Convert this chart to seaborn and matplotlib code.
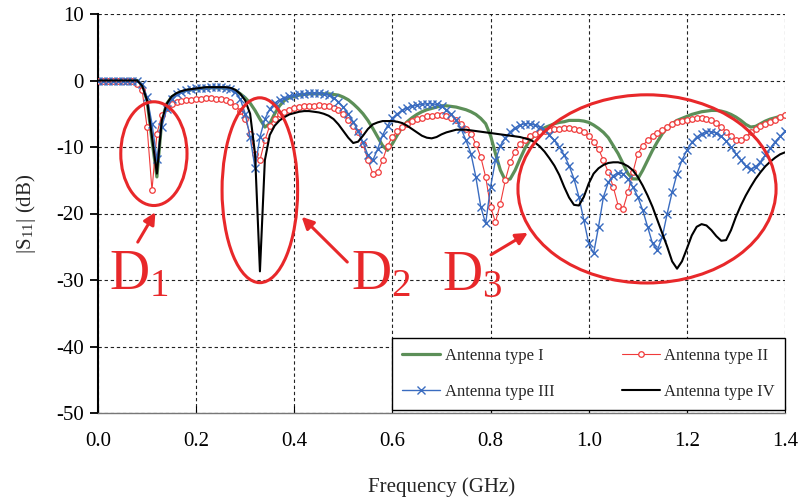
import matplotlib
matplotlib.use("Agg")
import matplotlib.pyplot as plt
import seaborn as sns
import numpy as np
import pandas as pd
from matplotlib.patches import Ellipse
from matplotlib.ticker import FormatStrFormatter

# ---------------- data ----------------
freq = np.round(np.arange(0, 141) * 0.01, 2)  # GHz, 0.00 ... 1.40

type_i = [
    0, 0, 0, 0, 0, 0, 0, 0, 0, -0.8,
    -3, -9, -14.5, -6, -3.5, -2.5, -2, -1.7, -1.5, -1.4,
    -1.3, -1.2, -1.2, -1.1, -1.1, -1.1, -1.2, -1.3, -1.5, -2,
    -2.6, -3.4, -4.5, -5.8, -7, -6.5, -5, -3.8, -3, -2.6,
    -2.4, -2.2, -2.1, -2.0, -2.0, -2.0, -2.0, -2.0, -2.1, -2.2,
    -2.5, -2.9, -3.5, -4.2, -5, -6, -7.2, -8.5, -9.8, -10.5,
    -9.5, -8.2, -7, -6.2, -5.6, -5.1, -4.7, -4.4, -4.2, -4.0,
    -3.8, -3.8, -3.9, -4.0, -4.2, -4.4, -4.7, -5.1, -5.7, -6.5,
    -8.3, -11, -13.5, -15, -14.8, -13.5, -11.8, -10.2, -9, -8.2,
    -7.6, -7.1, -6.8, -6.5, -6.3, -6.2, -6.0, -6.0, -6.0, -6.1,
    -6.3, -6.7, -7.2, -7.8, -8.6, -9.8, -11, -12.5, -14, -14.8,
    -14.8, -13.5, -12, -10.5, -9.2, -8, -7.1, -6.5, -6.0, -5.7,
    -5.4, -5.1, -4.9, -4.7, -4.6, -4.5, -4.5, -4.6, -4.8, -5.1,
    -5.5, -6.0, -6.6, -7.0, -6.9, -6.5, -6.1, -5.8, -5.6, -5.4,
    -5.3,
]

type_ii = [
    0, 0, 0, 0, 0, 0, 0, 0, -0.5, -1.5,
    -7, -16.5, -8, -5.2, -4.2, -3.6, -3.3, -3.1, -3.0, -2.9,
    -2.8, -2.8, -2.7, -2.7, -2.8, -2.8, -3.0, -3.3, -3.8, -4.6,
    -5.8, -8, -11, -12, -9, -6.8, -5.8, -5.1, -4.7, -4.4,
    -4.2, -4.0, -3.9, -3.8, -3.8, -3.7, -3.8, -3.9, -4.1, -4.5,
    -5.1, -5.9, -6.8, -7.8, -9.5, -12, -14, -13.8, -12, -9.8,
    -8.5, -7.6, -7, -6.5, -6.1, -5.8, -5.6, -5.4, -5.3, -5.2,
    -5.2, -5.3, -5.6, -6.0, -6.6, -7.3, -8.0, -9.5, -11.5, -14.5,
    -19, -21.3, -18.5, -15, -12.3, -10.7, -9.6, -8.9, -8.4, -8.0,
    -7.8, -7.6, -7.4, -7.3, -7.3, -7.2, -7.2, -7.3, -7.5, -7.8,
    -8.3, -9.2, -10.3, -12, -13.8, -16, -18.8, -19.3, -16.8, -13.8,
    -11, -9.8, -9, -8.4, -7.9, -7.4, -7.0, -6.6, -6.3, -6.1,
    -5.9, -5.8, -5.7, -5.7, -5.8, -6.0, -6.4, -7.0, -7.7, -8.4,
    -9.0, -9.0, -8.5, -7.8, -7.3, -6.8, -6.5, -6.2, -5.9, -5.5,
    -5.2,
]

type_iii = [
    0, 0, 0, 0, 0, 0, 0, 0, 0, -0.6,
    -2.5, -6.5, -11.8, -7, -4.3, -2.8, -2.1, -1.7, -1.5, -1.3,
    -1.2, -1.1, -1.1, -1.0, -1.0, -1.0, -1.1, -1.3, -1.8, -2.8,
    -5, -8.5, -13.2, -8.5, -5.8, -4.3, -3.4, -2.9, -2.6, -2.4,
    -2.2, -2.1, -2.0, -1.9, -1.9, -1.9, -2.0, -2.2, -2.6, -3.2,
    -4.0, -5.0, -6.2, -7.6, -9.3, -11.2, -12, -10.3, -8.2, -6.8,
    -5.7, -5.0, -4.5, -4.1, -3.9, -3.7, -3.6, -3.5, -3.5, -3.6,
    -3.9, -4.4, -5.1, -6.0, -7.3, -9.0, -11.0, -14.5, -19, -21.5,
    -16, -12, -9.8, -8.6, -7.7, -7.1, -6.7, -6.5, -6.5, -6.7,
    -7.0, -7.5, -8.2, -9.0, -10.0, -11.2, -12.8, -14.8, -17.5, -21,
    -24.5, -26, -22, -17.5, -15.3, -14.3, -13.9, -14.0, -14.8, -16.0,
    -17.5, -19.5, -22, -24.5, -25.5, -23.5, -20, -16.8, -14.0, -12.0,
    -10.5, -9.3, -8.5, -8.0, -7.7, -7.7, -7.9, -8.4, -9.1, -10.0,
    -11.0, -12.0, -12.9, -13.3, -13.0, -12.2, -11.2, -10.2, -9.2, -8.4,
    -7.6,
]

type_iv = [
    0, 0, 0, 0, 0, 0, 0, 0, 0, -0.8,
    -3, -8.5, -14, -6, -3.5, -2.4, -1.9, -1.6, -1.4, -1.3,
    -1.2, -1.1, -1.0, -1.0, -1.0, -1.0, -1.0, -1.1, -1.4, -2.0,
    -3.0, -5.0, -11, -28.7, -12, -8.2, -6.8, -6.0, -5.5, -5.1,
    -4.9, -4.7, -4.6, -4.6, -4.7, -4.8, -5.0, -5.3, -5.8, -6.6,
    -7.6, -8.6, -9.4, -9.2, -8.3, -7.3, -6.6, -6.3, -6.1, -6.1,
    -6.1, -6.2, -6.4, -6.8, -7.3, -7.8, -8.3, -8.6, -8.7, -8.5,
    -8.1, -7.8, -7.6, -7.4, -7.4, -7.4, -7.5, -7.6, -7.7, -7.8,
    -7.9, -8.0, -8.1, -8.2, -8.3, -8.4, -8.5, -8.7, -8.9, -9.3,
    -9.9, -10.7, -11.7, -12.8, -14.2, -16.0, -17.6, -18.7, -18.8, -17.5,
    -15.5, -14.0, -13.2, -12.7, -12.4, -12.3, -12.3, -12.5, -12.9, -13.5,
    -14.5, -15.8, -17.3, -19.0, -21.0, -23.0, -25.0, -27.2, -28.3, -27.2,
    -25.3, -23.3, -22.0, -21.6, -21.8, -22.5, -23.4, -24.1, -24.0, -22.5,
    -20.5, -18.8, -17.3, -16.0, -14.8, -13.8, -12.9, -12.2, -11.6, -11.1,
    -10.8,
]

series_names = ["Antenna type I", "Antenna type II", "Antenna type III", "Antenna type IV"]
x_ticks = [0.0, 0.2, 0.4, 0.6, 0.8, 1.0, 1.2, 1.4]
y_ticks = [-50, -40, -30, -20, -10, 0, 10]

# ---------------- style ----------------
sns.set_style("ticks")
plt.rcParams["font.family"] = ["Liberation Serif", "DejaVu Serif"]
plt.rcParams["mathtext.fontset"] = "stix"
plt.rcParams["axes.unicode_minus"] = False

GREEN = "#5c8f58"
RED = "#f03a3a"
BLUE = "#3a6cc0"
BLACK = "#000000"
ANN = "#e8282a"

fig = plt.figure(figsize=(8, 5), dpi=100)
ax = fig.add_axes([0.1225, 0.174, 0.85875, 0.798])

df = pd.DataFrame({"freq": freq, "I": type_i, "II": type_ii, "III": type_iii, "IV": type_iv})

sns.lineplot(data=df, x="freq", y="I", ax=ax, color=GREEN, linewidth=2.3,
             label=series_names[0], zorder=3)
sns.lineplot(data=df, x="freq", y="II", ax=ax, color=RED, linewidth=0.8,
             marker="o", markersize=4, markerfacecolor="white",
             markeredgecolor=RED, markeredgewidth=0.9,
             label=series_names[1], zorder=4)
sns.lineplot(data=df, x="freq", y="III", ax=ax, color=BLUE, linewidth=1.0,
             marker="x", markersize=5.5, markeredgecolor=BLUE, markeredgewidth=1.0,
             label=series_names[2], zorder=5)
sns.lineplot(data=df, x="freq", y="IV", ax=ax, color=BLACK, linewidth=1.5,
             label=series_names[3], zorder=6)

ax.set_xlim(0, 1.4)
ax.set_ylim(-50, 10)
ax.set_xticks(x_ticks)
ax.set_yticks(y_ticks)
ax.xaxis.set_major_formatter(FormatStrFormatter("%.1f"))

ax.set_axisbelow(True)
ax.grid(True, color="#222222", linestyle=(0, (3, 2.5)), linewidth=0.8)

for s in ("top", "right"):
    ax.spines[s].set_visible(False)
ax.spines["left"].set_color("black")
ax.spines["left"].set_linewidth(1.5)
ax.spines["bottom"].set_color("#777777")
ax.spines["bottom"].set_linestyle((0, (1, 1)))
ax.spines["bottom"].set_linewidth(1.0)

ax.tick_params(axis="y", direction="out", length=6, width=1.3, labelsize=15, pad=4, colors="black")
ax.tick_params(axis="x", direction="in", length=5, width=0.8, labelsize=15, pad=14, colors="black")

ax.set_xlabel("Frequency (GHz)", fontsize=15)
ax.set_ylabel(r"|S$_{\mathregular{11}}$| (dB)", fontsize=15)
ax.xaxis.set_label_coords(0.5, -0.16)
ax.yaxis.set_label_coords(-0.087, 0.5)

# ---------------- annotations ----------------
ellipses = [((0.1139, -11.0), 0.135, 15.6),
            ((0.3298, -16.5), 0.154, 27.8),
            ((1.1188, -16.3), 0.526, 28.3)]
for (cx, cy), w, h in ellipses:
    ax.add_patch(Ellipse((cx, cy), w, h, fill=False, edgecolor=ANN, linewidth=2.2, zorder=8))

arrows = [((0.081, -24.3), (0.117, -19.8)),
          ((0.508, -27.3), (0.415, -20.5)),
          ((0.801, -26.2), (0.876, -22.9))]
for start, tip in arrows:
    ax.annotate("", xy=tip, xytext=start,
                arrowprops=dict(arrowstyle="-|>,head_length=0.7,head_width=0.35",
                                color=ANN, lw=2.2, shrinkA=0, shrinkB=0),
                zorder=8)

labels = [(0.022, r"D$_{\mathregular{1}}$"), (0.516, r"D$_{\mathregular{2}}$"), (0.702, r"D$_{\mathregular{3}}$")]
for lx, txt in labels:
    ax.text(lx, -31.4, txt, color=ANN, fontsize=40, ha="left", va="baseline", zorder=9)

# ---------------- legend ----------------
handles, labs = ax.get_legend_handles_labels()
order = [0, 2, 1, 3]
leg = ax.legend([handles[i] for i in order], [labs[i] for i in order],
                loc="lower left", bbox_to_anchor=(0.428, 0.0075, 0.572, 0.19),
                mode="expand", ncol=2, fontsize=12, frameon=True, fancybox=False,
                edgecolor="black", framealpha=1, borderpad=0.6, labelspacing=1.2,
                handlelength=2.3, handletextpad=0.25, borderaxespad=0)
leg.get_frame().set_linewidth(1.0)
leg.set_zorder(10)

fig.savefig("out.png", dpi=100)
